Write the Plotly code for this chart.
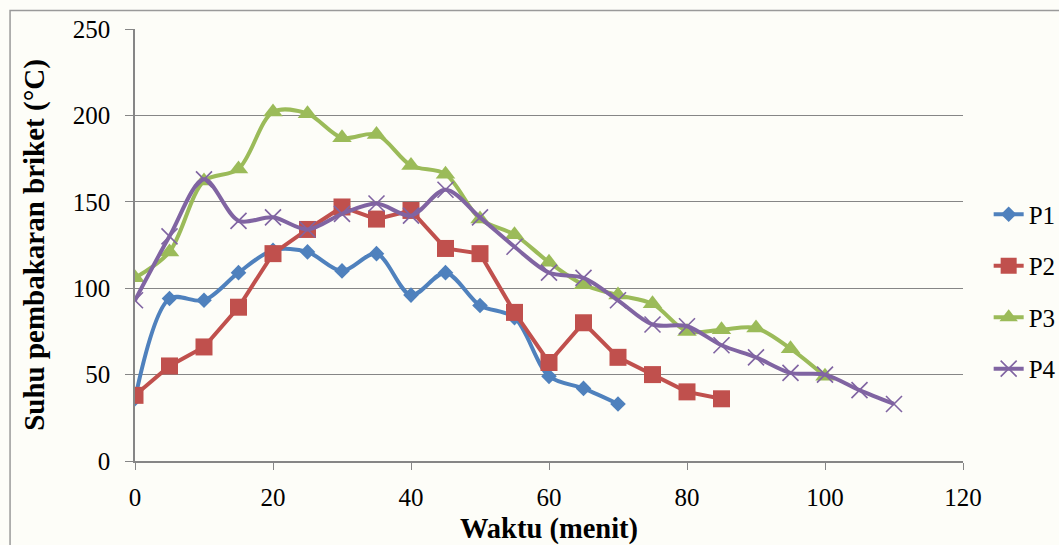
import plotly.graph_objects as go

# ---- data ----
waktu = [0, 5, 10, 15, 20, 25, 30, 35, 40, 45, 50, 55, 60, 65, 70, 75, 80, 85, 90, 95, 100, 105, 110]

p1 = [36, 94, 93, 109, 122, 121, 110, 120, 96, 109, 90, 83, 49, 42, 33]
p2 = [38, 55, 66, 89, 120, 134, 147, 140, 145, 123, 120, 86, 57, 80, 60, 50, 40, 36]
p3 = [106, 121, 162, 169, 202, 201, 187, 189, 171, 166, 140, 131, 115, 102, 96, 91, 75, 76, 77, 65, 49]
p4 = [93, 130, 163, 139, 141, 134, 143, 149, 142, 157, 141, 124, 109, 106, 93, 79, 78, 67, 60, 51, 50, 41, 33]

series_names = ["P1", "P2", "P3", "P4"]
x_ticks = [0, 20, 40, 60, 80, 100, 120]
y_ticks = [0, 50, 100, 150, 200, 250]

FONT = "Liberation Serif, Times New Roman, serif"
GRID = "#868686"

styles = [
    dict(color="#4F81BD", symbol="diamond", size=12, shape="spline", mline=0),
    dict(color="#C0504D", symbol="square", size=17, shape="linear", mline=0),
    dict(color="#9BBB59", symbol="triangle-up", size=17, shape="spline", mline=0),
    dict(color="#8064A2", symbol="x-thin", size=16, shape="spline", mline=1.6),
]

fig = go.Figure()
for name, vals, st in zip(series_names, [p1, p2, p3, p4], styles):
    fig.add_trace(go.Scatter(
        x=waktu[:len(vals)], y=vals, name=name, legendgroup=name,
        mode="lines+markers",
        line=dict(color=st["color"], width=4, shape=st["shape"], smoothing=0.9),
        marker=dict(symbol=st["symbol"], size=st["size"], color=st["color"],
                    line=dict(color=st["color"], width=st["mline"])),
    ))

fig.update_layout(
    width=1059, height=545,
    margin=dict(l=134.5, r=96, t=29, b=84, autoexpand=False),
    paper_bgcolor="#fdfdf8", plot_bgcolor="#fdfdf8",
    font=dict(family=FONT, color="black", size=25),
    legend=dict(x=1.031, y=0.624, xanchor="left", yanchor="top",
                font=dict(family=FONT, size=25), bgcolor="rgba(0,0,0,0)",
                tracegroupgap=16, traceorder="grouped"),
    xaxis=dict(range=[0, 120], tickvals=x_ticks, showgrid=False, zeroline=False,
               showline=True, linecolor=GRID, linewidth=1.5,
               ticks="outside", ticklen=7, tickcolor=GRID, tickwidth=1.2,
               tickfont=dict(family=FONT, size=25), ticklabelstandoff=6,
               title=dict(text="<b>Waktu (menit)</b>", font=dict(family=FONT, size=28.5), standoff=21)),
    yaxis=dict(range=[0, 250], tickvals=y_ticks, showgrid=True, gridcolor=GRID, gridwidth=1,
               zeroline=False, showline=True, linecolor=GRID, linewidth=1.5,
               ticks="outside", ticklen=8, tickcolor=GRID, tickwidth=1.2,
               tickfont=dict(family=FONT, size=25), ticklabelstandoff=10,
               title=dict(text="<b>Suhu pembakaran briket (°C)</b>", font=dict(family=FONT, size=29), standoff=20)),
)

# outer chart border (top and left visible)
fig.add_shape(type="rect", xref="paper", yref="paper",
              x0=-0.1509, x1=1.2, y0=-0.3, y1=1.0428,
              line=dict(color="#9a9a9a", width=1.5), fillcolor="rgba(0,0,0,0)", layer="below")

fig.write_html("out.html")
